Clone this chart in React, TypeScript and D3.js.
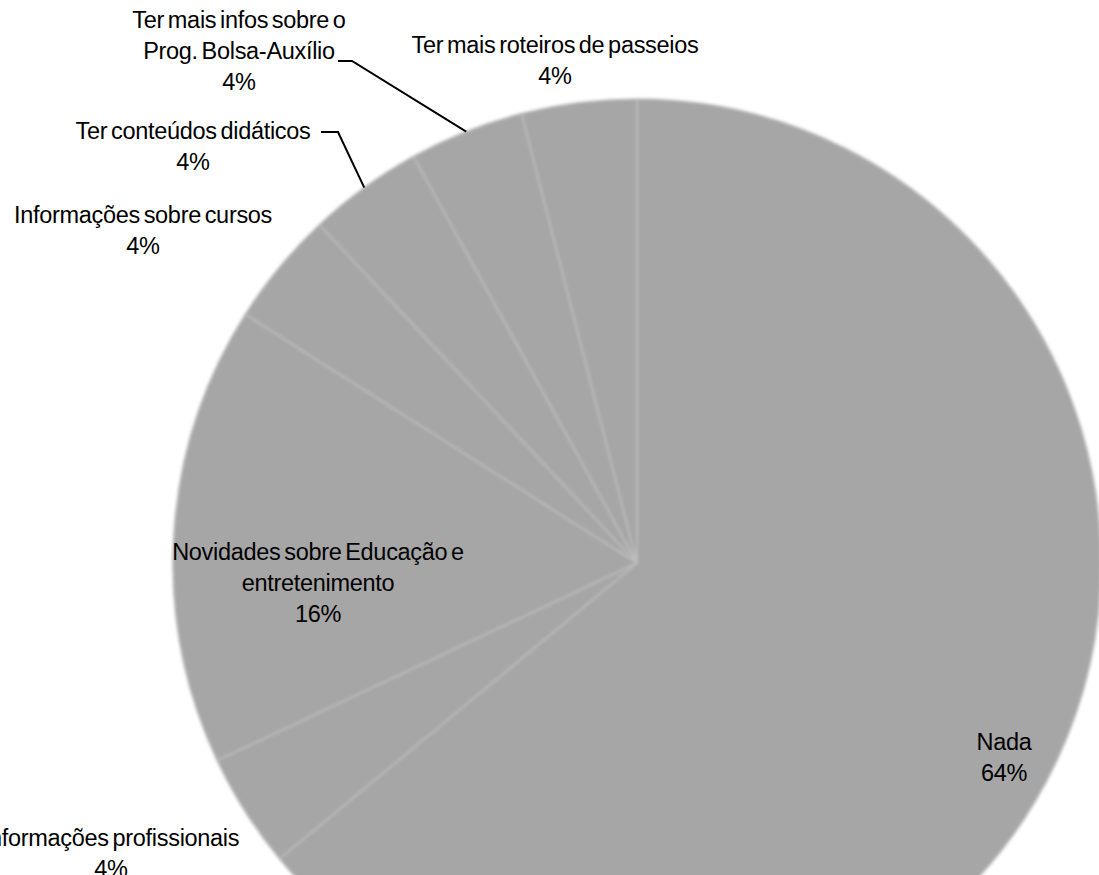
import React from "react";
import * as d3 from "d3";

const categories = [
  "Nada",
  "Informações profissionais",
  "Novidades sobre Educação e entretenimento",
  "Informações sobre cursos",
  "Ter conteúdos didáticos",
  "Ter mais infos sobre o Prog. Bolsa-Auxílio",
  "Ter mais roteiros de passeios",
];
const values = [64, 4, 16, 4, 4, 4, 4];
const labelLines = [
  ["Nada"],
  ["Informações profissionais"],
  ["Novidades sobre Educação e", "entretenimento"],
  ["Informações sobre cursos"],
  ["Ter conteúdos didáticos"],
  ["Ter mais infos sobre o", "Prog. Bolsa-Auxílio"],
  ["Ter mais roteiros de passeios"],
];

// layout (label centre x, first line centre y, optional leader start/elbow)
const labelLayout = [
  { x: 1004, y: 742 },
  { x: 111, y: 838 },
  { x: 318, y: 552 },
  { x: 143, y: 215 },
  { x: 193, y: 131, leader: [[321, 132], [338, 132]] },
  { x: 239, y: 20, leader: [[338, 61], [352, 61]] },
  { x: 555, y: 45 },
];

const W = 1099;
const H = 875;
const CX = 637;
const CY = 563;
const R = 464;
const LINE_H = 31;
const FONT = 23.5;

export default function App() {
  const pie = d3.pie<number>().sort(null).value((d) => d);
  const arcs = pie(values);
  const arc = d3.arc<d3.PieArcDatum<number>>().innerRadius(0).outerRadius(R);
  const edgeArc = d3.arc<d3.PieArcDatum<number>>().innerRadius(R).outerRadius(R);
  const line = d3.line();

  return (
    <svg
      width={W}
      height={H}
      style={{ position: "absolute", left: 0, top: 0, background: "#fff" }}
      fontFamily="'Liberation Sans', Arial, sans-serif"
    >
      <defs>
        <filter id="soft" x="-10%" y="-10%" width="120%" height="120%">
          <feGaussianBlur stdDeviation="1.5" />
        </filter>
      </defs>
      <g transform={`translate(${CX},${CY})`} filter="url(#soft)">
        {arcs.map((a, i) => (
          <path
            key={categories[i]}
            d={arc(a) || ""}
            fill="#a6a6a6"
            stroke="#bdbdbd"
            strokeWidth={1.6}
            strokeLinejoin="round"
          />
        ))}
      </g>
      {arcs.map((a, i) => {
        const lay = labelLayout[i];
        if (!lay.leader) return null;
        const [ex, ey] = edgeArc.centroid(a);
        const pts: [number, number][] = [
          lay.leader[0] as [number, number],
          lay.leader[1] as [number, number],
          [ex + CX, ey + CY],
        ];
        return (
          <path
            key={"leader" + i}
            d={line(pts) || ""}
            fill="none"
            stroke="#000"
            strokeWidth={2}
          />
        );
      })}
      {arcs.map((a, i) => {
        const lay = labelLayout[i];
        const lines = [...labelLines[i], `${values[i]}%`];
        return (
          <text
            key={"label" + i}
            textAnchor="middle"
            fontSize={FONT}
            letterSpacing={-0.3}
            wordSpacing={-2.5}
            fill="#000"
          >
            {lines.map((t, j) => (
              <tspan key={j} x={lay.x} y={lay.y + j * LINE_H + 8}>
                {t}
              </tspan>
            ))}
          </text>
        );
      })}
    </svg>
  );
}
